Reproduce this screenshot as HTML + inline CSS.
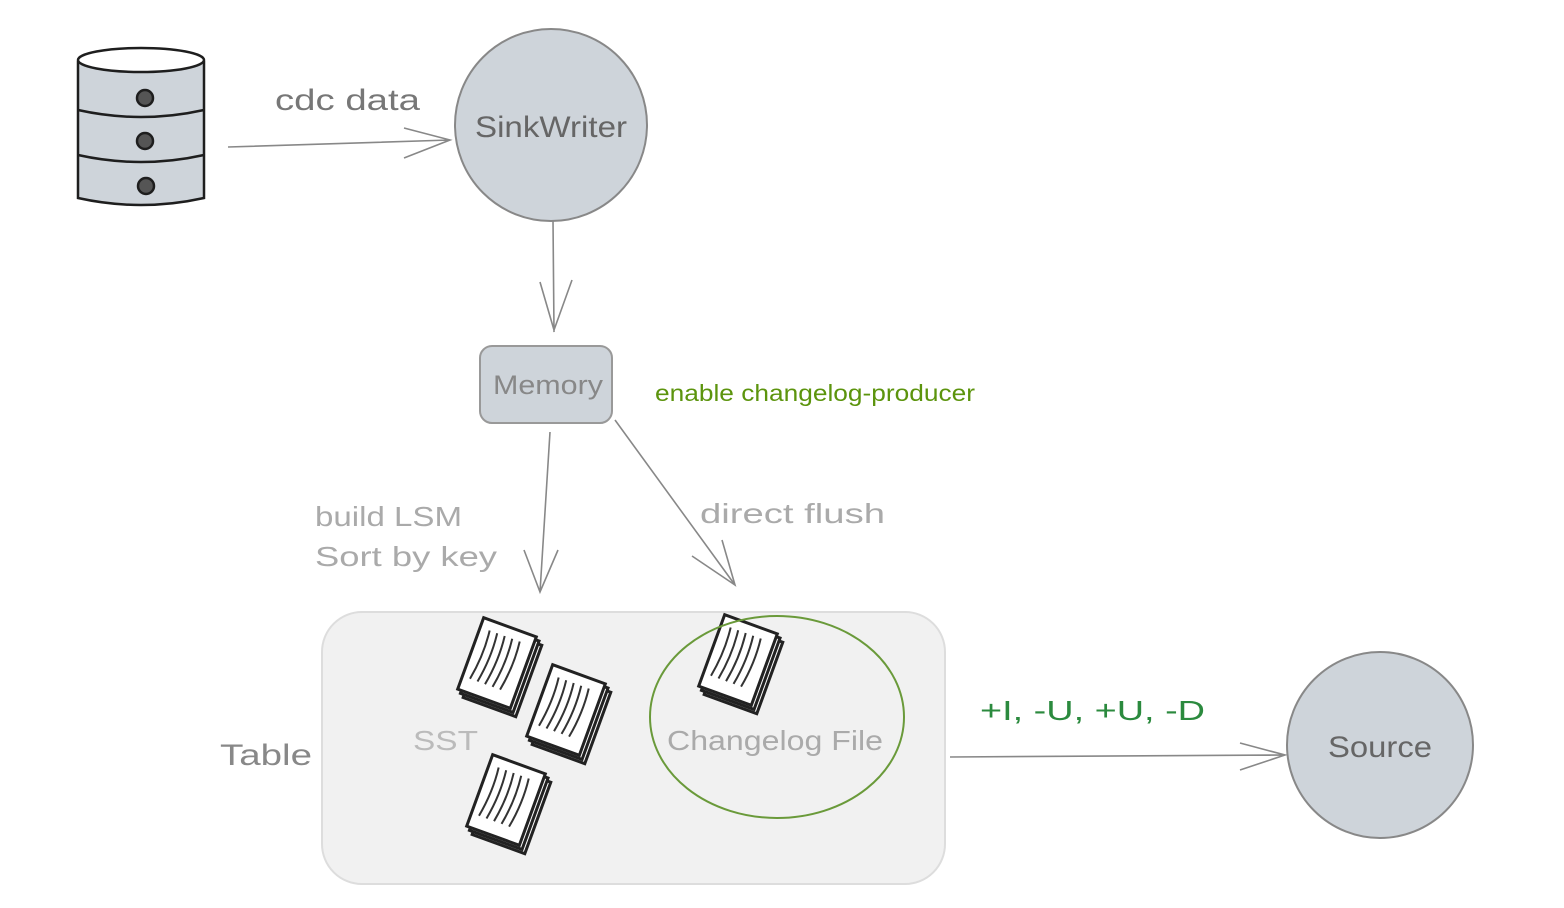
<!DOCTYPE html>
<html><head><meta charset="utf-8"><style>
html,body{margin:0;padding:0;background:#fff}
svg{display:block}
text{font-family:"Liberation Sans",sans-serif}
</style></head><body>
<svg width="1564" height="908" viewBox="0 0 1564 908" xmlns="http://www.w3.org/2000/svg">
<defs>
<g id="doc">
 <rect x="-28" y="-38" width="56" height="76" fill="#fff" stroke="#222" stroke-width="3" transform="rotate(20) translate(8,6)"/>
 <rect x="-28" y="-38" width="56" height="76" fill="#fff" stroke="#222" stroke-width="3" transform="rotate(20) translate(4,3)"/>
 <rect x="-28" y="-38" width="56" height="76" fill="#fff" stroke="#222" stroke-width="3" transform="rotate(20)"/>
 <g transform="rotate(20)" stroke="#333" stroke-width="2" fill="none">
  <path d="M-18,-28 q3,25 -2,52 M-10,-28 q3,25 -2,52 M-2,-28 q3,25 -2,52 M6,-28 q3,25 -2,52 M14,-28 q3,25 -2,52"/>
 </g>
</g>
</defs>

<g stroke="#1e1e1e" stroke-width="2.5" fill="#ced4da">
 <path d="M78,62 L78,198 Q141,212 204,198 L204,62 Z"/>
 <ellipse cx="141" cy="60" rx="63" ry="12" fill="#fff"/>
 <path d="M78,110 Q141,124 204,110 M78,155 Q141,169 204,155" fill="none"/>
 <circle cx="145" cy="98" r="8" fill="#555"/>
 <circle cx="145" cy="141" r="8" fill="#555"/>
 <circle cx="146" cy="186" r="8" fill="#555"/>
</g>

<g stroke="#888" stroke-width="1.6" fill="none">
 <path d="M228,147 L450,140 M404,128 L450,140 L404,158"/>
 <path d="M553,220 L554,332 M540,282 L554,330 L572,280"/>
 <path d="M550,432 L540,592 M524,550 L540,592 L558,550"/>
 <path d="M615,420 L735,585 M692,556 L735,585 L722,540"/>
 <path d="M950,757 L1285,755 M1240,743 L1285,755 L1240,770"/>
</g>
<text x="275" y="110" font-size="30" fill="#777" textLength="145" lengthAdjust="spacingAndGlyphs">cdc data</text>

<circle cx="551" cy="125" r="96" fill="#ced4da" stroke="#888" stroke-width="2"/>
<text x="475" y="137" font-size="30" fill="#666" textLength="152" lengthAdjust="spacingAndGlyphs">SinkWriter</text>

<rect x="480" y="346" width="132" height="77" rx="12" fill="#ced4da" stroke="#999" stroke-width="2"/>
<text x="493" y="394" font-size="27" fill="#888" textLength="110" lengthAdjust="spacingAndGlyphs">Memory</text>
<text x="655" y="401" font-size="23" fill="#5c940d" textLength="320" lengthAdjust="spacingAndGlyphs">enable changelog-producer</text>

<text x="315" y="526" font-size="28" fill="#aaa" textLength="147" lengthAdjust="spacingAndGlyphs">build LSM</text>
<text x="315" y="566" font-size="28" fill="#aaa" textLength="182" lengthAdjust="spacingAndGlyphs">Sort by key</text>
<text x="700" y="523" font-size="28" fill="#aaa" textLength="185" lengthAdjust="spacingAndGlyphs">direct flush</text>

<rect x="322" y="612" width="623" height="272" rx="40" fill="#f1f1f1" stroke="#ddd" stroke-width="2"/>
<text x="220" y="765" font-size="30" fill="#888" textLength="92" lengthAdjust="spacingAndGlyphs">Table</text>
<text x="413" y="750" font-size="28" fill="#bbb" textLength="65" lengthAdjust="spacingAndGlyphs">SST</text>
<use href="#doc" x="497" y="663"/>
<use href="#doc" x="566" y="710"/>
<use href="#doc" x="506" y="800"/>
<use href="#doc" x="738" y="660"/>
<ellipse cx="777" cy="717" rx="127" ry="101" fill="none" stroke="#6a9a3a" stroke-width="2"/>
<text x="667" y="750" font-size="28" fill="#aaa" textLength="216" lengthAdjust="spacingAndGlyphs">Changelog File</text>

<text x="980" y="720" font-size="28" fill="#2b8a3e" textLength="225" lengthAdjust="spacingAndGlyphs">+I, -U, +U, -D</text>

<circle cx="1380" cy="745" r="93" fill="#ced4da" stroke="#888" stroke-width="2"/>
<text x="1328" y="757" font-size="30" fill="#666" textLength="104" lengthAdjust="spacingAndGlyphs">Source</text>
</svg>
</body></html>
